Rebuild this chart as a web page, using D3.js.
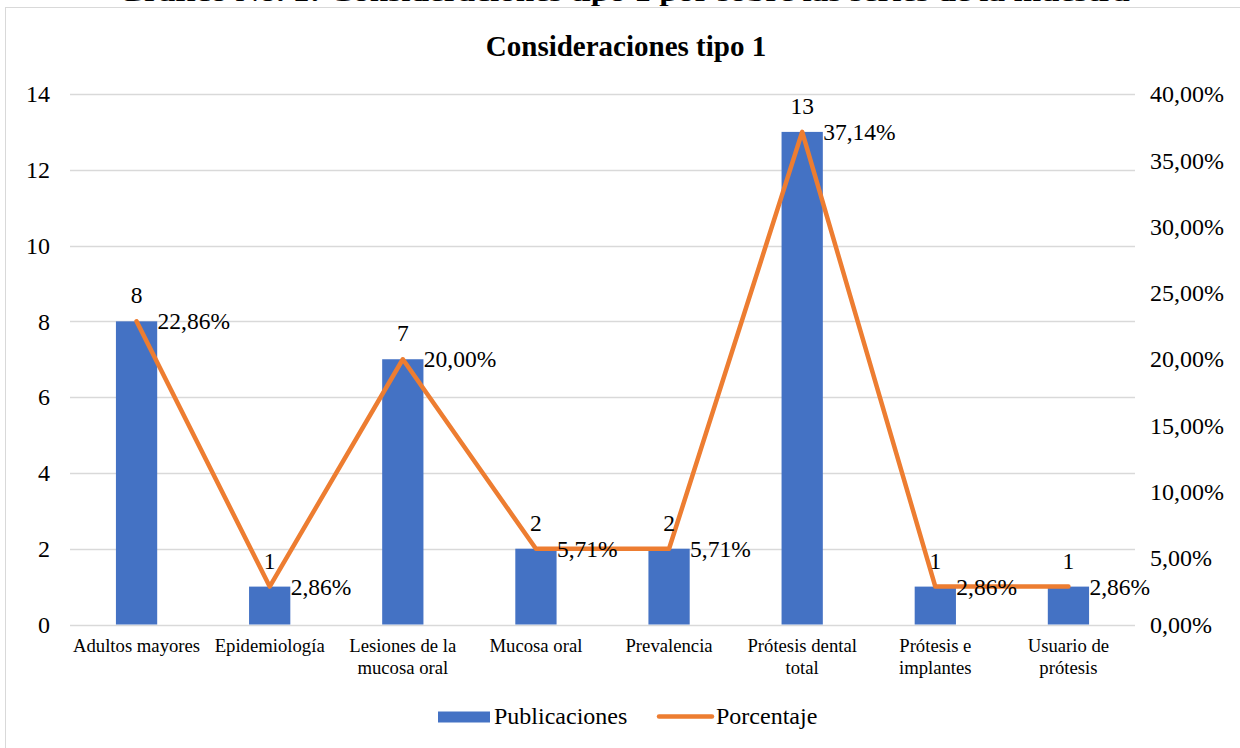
<!DOCTYPE html>
<html>
<head>
<meta charset="utf-8">
<script src="https://cdn.jsdelivr.net/npm/d3@7"></script>
<style>
  html, body { margin: 0; padding: 0; background: #ffffff; }
  svg { display: block; }
  text { font-family: "Liberation Serif", "Times New Roman", serif; fill: #000; }
</style>
</head>
<body>
<svg id="chart" width="1240" height="748"></svg>
<script>
// Categories, series and tick labels
const categories = [
  ["Adultos mayores"],
  ["Epidemiología"],
  ["Lesiones de la", "mucosa oral"],
  ["Mucosa oral"],
  ["Prevalencia"],
  ["Prótesis dental", "total"],
  ["Prótesis e", "implantes"],
  ["Usuario de", "prótesis"]
];
const publicaciones = [8, 1, 7, 2, 2, 13, 1, 1];
const porcentaje = [22.86, 2.86, 20.00, 5.71, 5.71, 37.14, 2.86, 2.86];
const leftTicks = [0, 2, 4, 6, 8, 10, 12, 14];
const rightTicks = [0, 5, 10, 15, 20, 25, 30, 35, 40];

const svg = d3.select("#chart");
const W = 1240, H = 748;
const plot = { left: 70, right: 1135, top: 94, bottom: 624.5 };

const blue = "#4472C4", orange = "#ED7D31", grid = "#D9D9D9";
const fmtPct = v => v.toFixed(2).replace(".", ",") + "%";

// Caption line above the chart frame (runs off the top of the page)
svg.append("text")
  .attr("x", 118).attr("y", 0.5)
  .attr("textLength", 1012).attr("lengthAdjust", "spacingAndGlyphs")
  .style("font-size", "24px").style("font-weight", "bold")
  .text("Gráfico No. 1: Consideraciones tipo 1 por sobre las series de la muestra");

// Chart frame
svg.append("rect")
  .attr("x", 5.5).attr("y", 7.5)
  .attr("width", W + 10).attr("height", H + 10)
  .attr("fill", "#fff").attr("stroke", grid).attr("stroke-width", 1);

// Title
svg.append("text")
  .attr("x", 626).attr("y", 56)
  .attr("text-anchor", "middle")
  .style("font-size", "29px").style("font-weight", "bold")
  .text("Consideraciones tipo 1");

// Scales
const x = d3.scaleBand()
  .domain(d3.range(categories.length))
  .range([plot.left, plot.right])
  .padding(0);
const yL = d3.scaleLinear().domain([0, 14]).range([plot.bottom, plot.top]);
const yR = d3.scaleLinear().domain([0, 40]).range([plot.bottom, plot.top]);
const barW = x.bandwidth() * 0.31;
const cx = i => x(i) + x.bandwidth() / 2;

// Horizontal gridlines (left axis)
svg.append("g").selectAll("line")
  .data(leftTicks)
  .join("line")
  .attr("x1", plot.left).attr("x2", plot.right)
  .attr("y1", d => Math.round(yL(d)) + 0.5)
  .attr("y2", d => Math.round(yL(d)) + 0.5)
  .attr("stroke", grid).attr("stroke-width", 1.3);

// Left axis labels
const axL = svg.append("g")
  .attr("transform", `translate(${plot.left},0)`)
  .call(d3.axisLeft(yL).tickValues(leftTicks).tickSize(0).tickPadding(20).tickFormat(d3.format("d")));
axL.select(".domain").remove();
axL.selectAll("text")
  .style("font-size", "24px")
  .style("font-family", "'Liberation Serif', 'Times New Roman', serif");

// Right axis labels
const axR = svg.append("g")
  .attr("transform", `translate(${plot.right},0)`)
  .call(d3.axisRight(yR).tickValues(rightTicks).tickSize(0).tickPadding(15).tickFormat(fmtPct));
axR.select(".domain").remove();
axR.selectAll("text")
  .style("font-size", "24px")
  .style("font-family", "'Liberation Serif', 'Times New Roman', serif");

// Bars
svg.append("g").selectAll("rect")
  .data(publicaciones)
  .join("rect")
  .attr("x", (d, i) => cx(i) - barW / 2)
  .attr("width", barW)
  .attr("y", d => yL(d))
  .attr("height", d => yL(0) - yL(d))
  .attr("fill", blue);

// Category labels
const catG = svg.append("g");
categories.forEach((lines, i) => {
  const t = catG.append("text")
    .attr("x", cx(i)).attr("y", 652)
    .attr("text-anchor", "middle")
    .style("font-size", "18.7px");
  lines.forEach((ln, k) => {
    t.append("tspan").attr("x", cx(i)).attr("dy", k === 0 ? 0 : 22).text(ln);
  });
});

// Percentage line
const line = d3.line()
  .x((d, i) => cx(i))
  .y(d => yR(d));
svg.append("path")
  .datum(porcentaje)
  .attr("d", line)
  .attr("fill", "none")
  .attr("stroke", orange)
  .attr("stroke-width", 4.5)
  .attr("stroke-linejoin", "round")
  .attr("stroke-linecap", "round");

// Bar value labels
svg.append("g").selectAll("text")
  .data(publicaciones)
  .join("text")
  .attr("x", (d, i) => cx(i))
  .attr("y", d => yL(d) - 18)
  .attr("text-anchor", "middle")
  .style("font-size", "23.5px")
  .text(d => d);

// Percentage labels
svg.append("g").selectAll("text")
  .data(porcentaje)
  .join("text")
  .attr("x", (d, i) => cx(i) + 21)
  .attr("y", d => yR(d) + 8)
  .style("font-size", "23.5px")
  .text(d => fmtPct(d));

// Legend
const lg = svg.append("g");
lg.append("rect")
  .attr("x", 438).attr("y", 711.5).attr("width", 52).attr("height", 11)
  .attr("fill", blue);
lg.append("text")
  .attr("x", 494).attr("y", 724)
  .style("font-size", "24px")
  .text("Publicaciones");
lg.append("line")
  .attr("x1", 659).attr("x2", 712).attr("y1", 716.5).attr("y2", 716.5)
  .attr("stroke", orange).attr("stroke-width", 4.5).attr("stroke-linecap", "round");
lg.append("text")
  .attr("x", 716).attr("y", 724)
  .style("font-size", "24px")
  .text("Porcentaje");
</script>
</body>
</html>
